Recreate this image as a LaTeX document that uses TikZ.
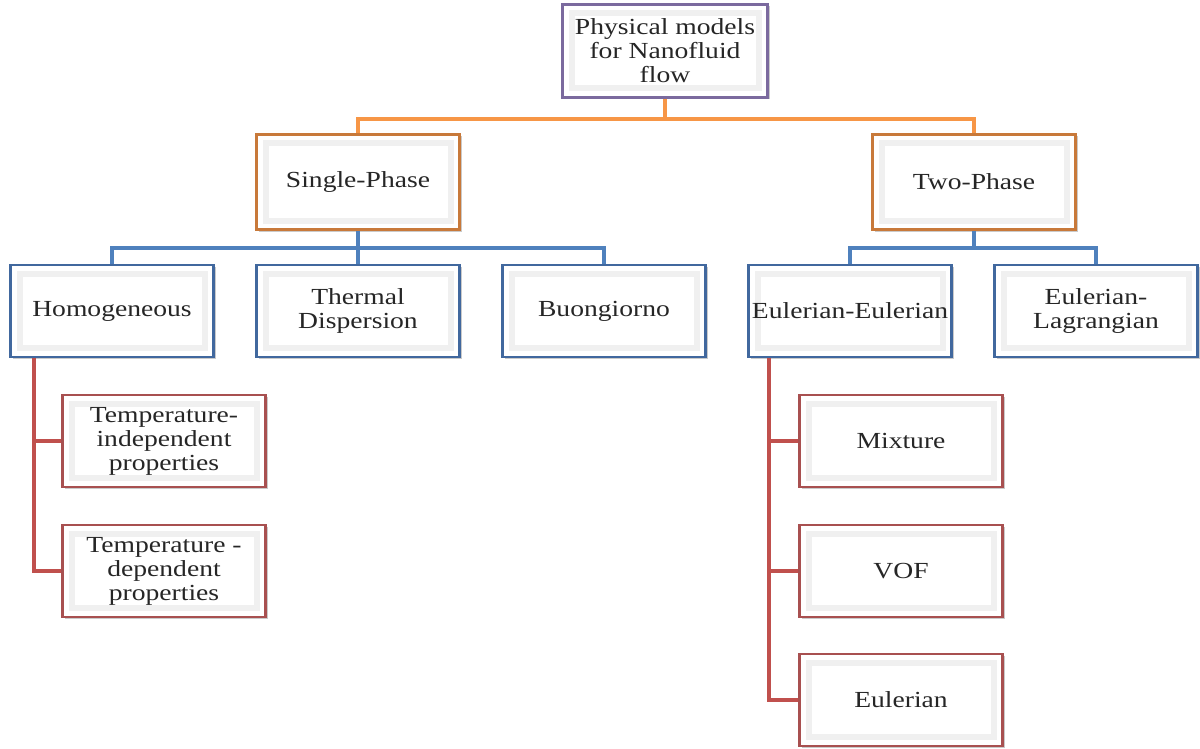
\documentclass[tikz,border=0pt]{standalone}
\usepackage{fontspec}
\setmainfont[FakeStretch=1.2]{Liberation Serif}
\usetikzlibrary{shadows}
\definecolor{boxpurple}{HTML}{7B6A9E}
\definecolor{boxorange}{HTML}{C8793A}
\definecolor{boxblue}{HTML}{41689E}
\definecolor{boxred}{HTML}{A85050}
\definecolor{lineorange}{HTML}{F79646}
\definecolor{lineblue}{HTML}{4F81BD}
\definecolor{linered}{HTML}{C0504D}
\begin{document}
\begin{tikzpicture}[x=1pt, y=-1pt,
	model/.style = {draw, line width=2.2pt, fill=white, minimum width=203pt, minimum height=92pt,
		align=center, text=black!85, font=\fontsize{23}{24}\selectfont,
		drop shadow={shadow xshift=2pt, shadow yshift=-2pt, fill=black!35, opacity=0.6},
		path picture={\draw[black!6, line width=6pt]
			([shift={(9pt,9pt)}]path picture bounding box.south west) rectangle
			([shift={(-9pt,-9pt)}]path picture bounding box.north east);}},
	link/.style = {line width=4pt}
]
\useasboundingbox (0,0) rectangle (1200,749);

% boxes
\node[model, draw=boxpurple, minimum width=205pt, minimum height=93pt] (phys) at (665,51) {Physical models\\for Nanofluid\\flow};
\node[model, draw=boxorange, minimum height=95pt] (single) at (358,182) {Single-Phase};
\node[model, draw=boxorange, minimum height=95pt] (two) at (974,182) {Two-Phase};
\node[model, draw=boxblue] (homo) at (112,311) {Homogeneous};
\node[model, draw=boxblue] (thermal) at (358,311) {Thermal\\Dispersion};
\node[model, draw=boxblue] (buon) at (604,311) {Buongiorno};
\node[model, draw=boxblue] (eueu) at (850,311) {Eulerian-Eulerian};
\node[model, draw=boxblue] (eula) at (1096,311) {Eulerian-\\Lagrangian};
\node[model, draw=boxred] (tind) at (164,441) {Temperature-\\independent\\properties};
\node[model, draw=boxred] (tdep) at (164,571) {Temperature -\\dependent\\properties};
\node[model, draw=boxred] (mix) at (901,441) {Mixture};
\node[model, draw=boxred] (vof) at (901,571) {VOF};
\node[model, draw=boxred] (euler) at (901,700) {Eulerian};

% connectors
\draw[link, lineorange] (phys.south) -- ++(0,20) coordinate (obus);
\draw[link, lineorange] (obus) -| (single.north);
\draw[link, lineorange] (obus) -| (two.north);

\draw[link, lineblue] (single.south) -- ++(0,17) coordinate (sbus);
\foreach \n in {homo, thermal, buon}
{
	\draw[link, lineblue] (sbus) -| (\n.north);
}
\draw[link, lineblue] (two.south) -- ++(0,17) coordinate (tbus);
\foreach \n in {eueu, eula}
{
	\draw[link, lineblue] (tbus) -| (\n.north);
}

\path (homo.south west) ++(25,0) coordinate (hleg);
\foreach \n in {tind, tdep}
{
	\draw[link, linered] (hleg) |- (\n.west);
}
\path (eueu.south west) ++(22,0) coordinate (eleg);
\foreach \n in {mix, vof, euler}
{
	\draw[link, linered] (eleg) |- (\n.west);
}
\end{tikzpicture}
\end{document}
